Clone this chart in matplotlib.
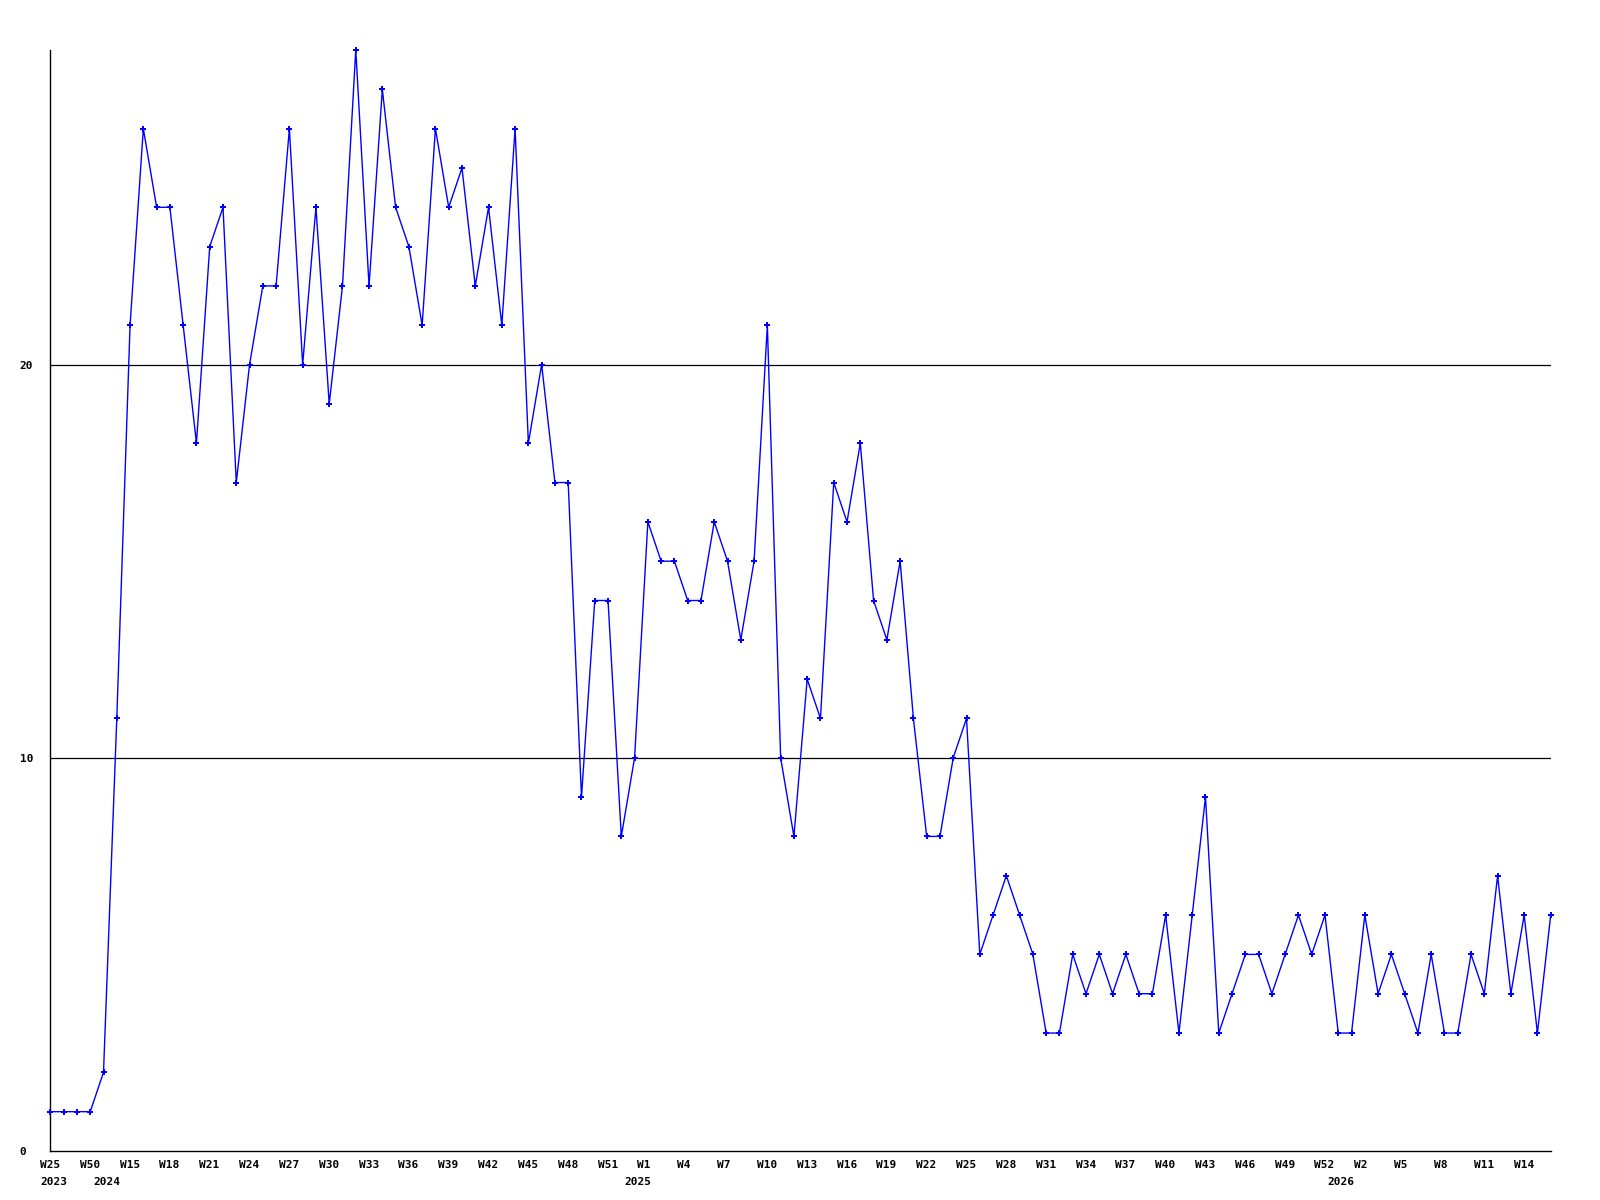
# Weekly counts line chart, one point per week, labels every third week
import matplotlib
matplotlib.use("Agg")
import matplotlib.pyplot as plt
from matplotlib.transforms import ScaledTranslation

counts = [1, 1, 1, 1, 2, 11, 21, 26, 24, 24,
          21, 18, 23, 24, 17, 20, 22, 22, 26, 20,
          24, 19, 22, 28, 22, 27, 24, 23, 21, 26,
          24, 25, 22, 24, 21, 26, 18, 20, 17, 17,
          9, 14, 14, 8, 10, 16, 15, 15, 14, 14,
          16, 15, 13, 15, 21, 10, 8, 12, 11, 17,
          16, 18, 14, 13, 15, 11, 8, 8, 10, 11,
          5, 6, 7, 6, 5, 3, 3, 5, 4, 5,
          4, 5, 4, 4, 6, 3, 6, 9, 3, 4,
          5, 5, 4, 5, 6, 5, 6, 3, 3, 6,
          4, 5, 4, 3, 5, 3, 3, 5, 4, 7,
          4, 6, 3, 6]

# one label every 3 weeks
week_labels = ["W25", "W50", "W15", "W18", "W21", "W24", "W27", "W30", "W33", "W36",
               "W39", "W42", "W45", "W48", "W51", "W1", "W4", "W7", "W10", "W13",
               "W16", "W19", "W22", "W25", "W28", "W31", "W34", "W37", "W40", "W43",
               "W46", "W49", "W52", "W2", "W5", "W8", "W11", "W14"]
year_labels = ["2023", "2024", "2025", "2026"]
year_start = [0, 4, 44, 97]   # index of first week of each year

x = list(range(len(counts)))

fig = plt.figure(figsize=(16, 12), dpi=100)
ax = fig.add_axes([50.4 / 1600, 49 / 1200, 1500.3 / 1600, 1101 / 1200])

ax.plot(x, counts, color="#0000ff", lw=1.0, marker="P", ms=4, mew=0,
        clip_on=False, zorder=3)

ax.set_xlim(0, len(counts) - 1)
ax.set_ylim(0, max(counts))

for v in [10, 20]:
    ax.axhline(v, color="black", lw=0.9, zorder=1)

for side in ["top", "right"]:
    ax.spines[side].set_visible(False)
for side in ["left", "bottom"]:
    ax.spines[side].set_color("black")
    ax.spines[side].set_linewidth(1.0)

font = dict(family="DejaVu Sans Mono", weight="bold", size=8)

ax.set_yticks([0, 10, 20])
ax.set_yticklabels(["0", "10", "20"], **font)
ax.tick_params(axis="y", length=0, pad=22)
for lbl in ax.get_yticklabels():
    lbl.set_ha("left")

ax.xaxis.remove_overlapping_locs = False
ax.set_xticks(x[::3])
ax.set_xticklabels(week_labels, **font)
ax.set_xticks(year_start, minor=True)
ax.set_xticklabels(year_labels, minor=True, **font)
ax.tick_params(axis="x", which="major", length=0, pad=6.5)
ax.tick_params(axis="x", which="minor", length=0, pad=18.5)

shift = ScaledTranslation(-10.5 / 100, 0, fig.dpi_scale_trans)
for lbl in ax.get_xticklabels() + ax.get_xticklabels(minor=True):
    lbl.set_ha("left")
    lbl.set_transform(lbl.get_transform() + shift)

fig.savefig("out.png", dpi=100, facecolor="white")
